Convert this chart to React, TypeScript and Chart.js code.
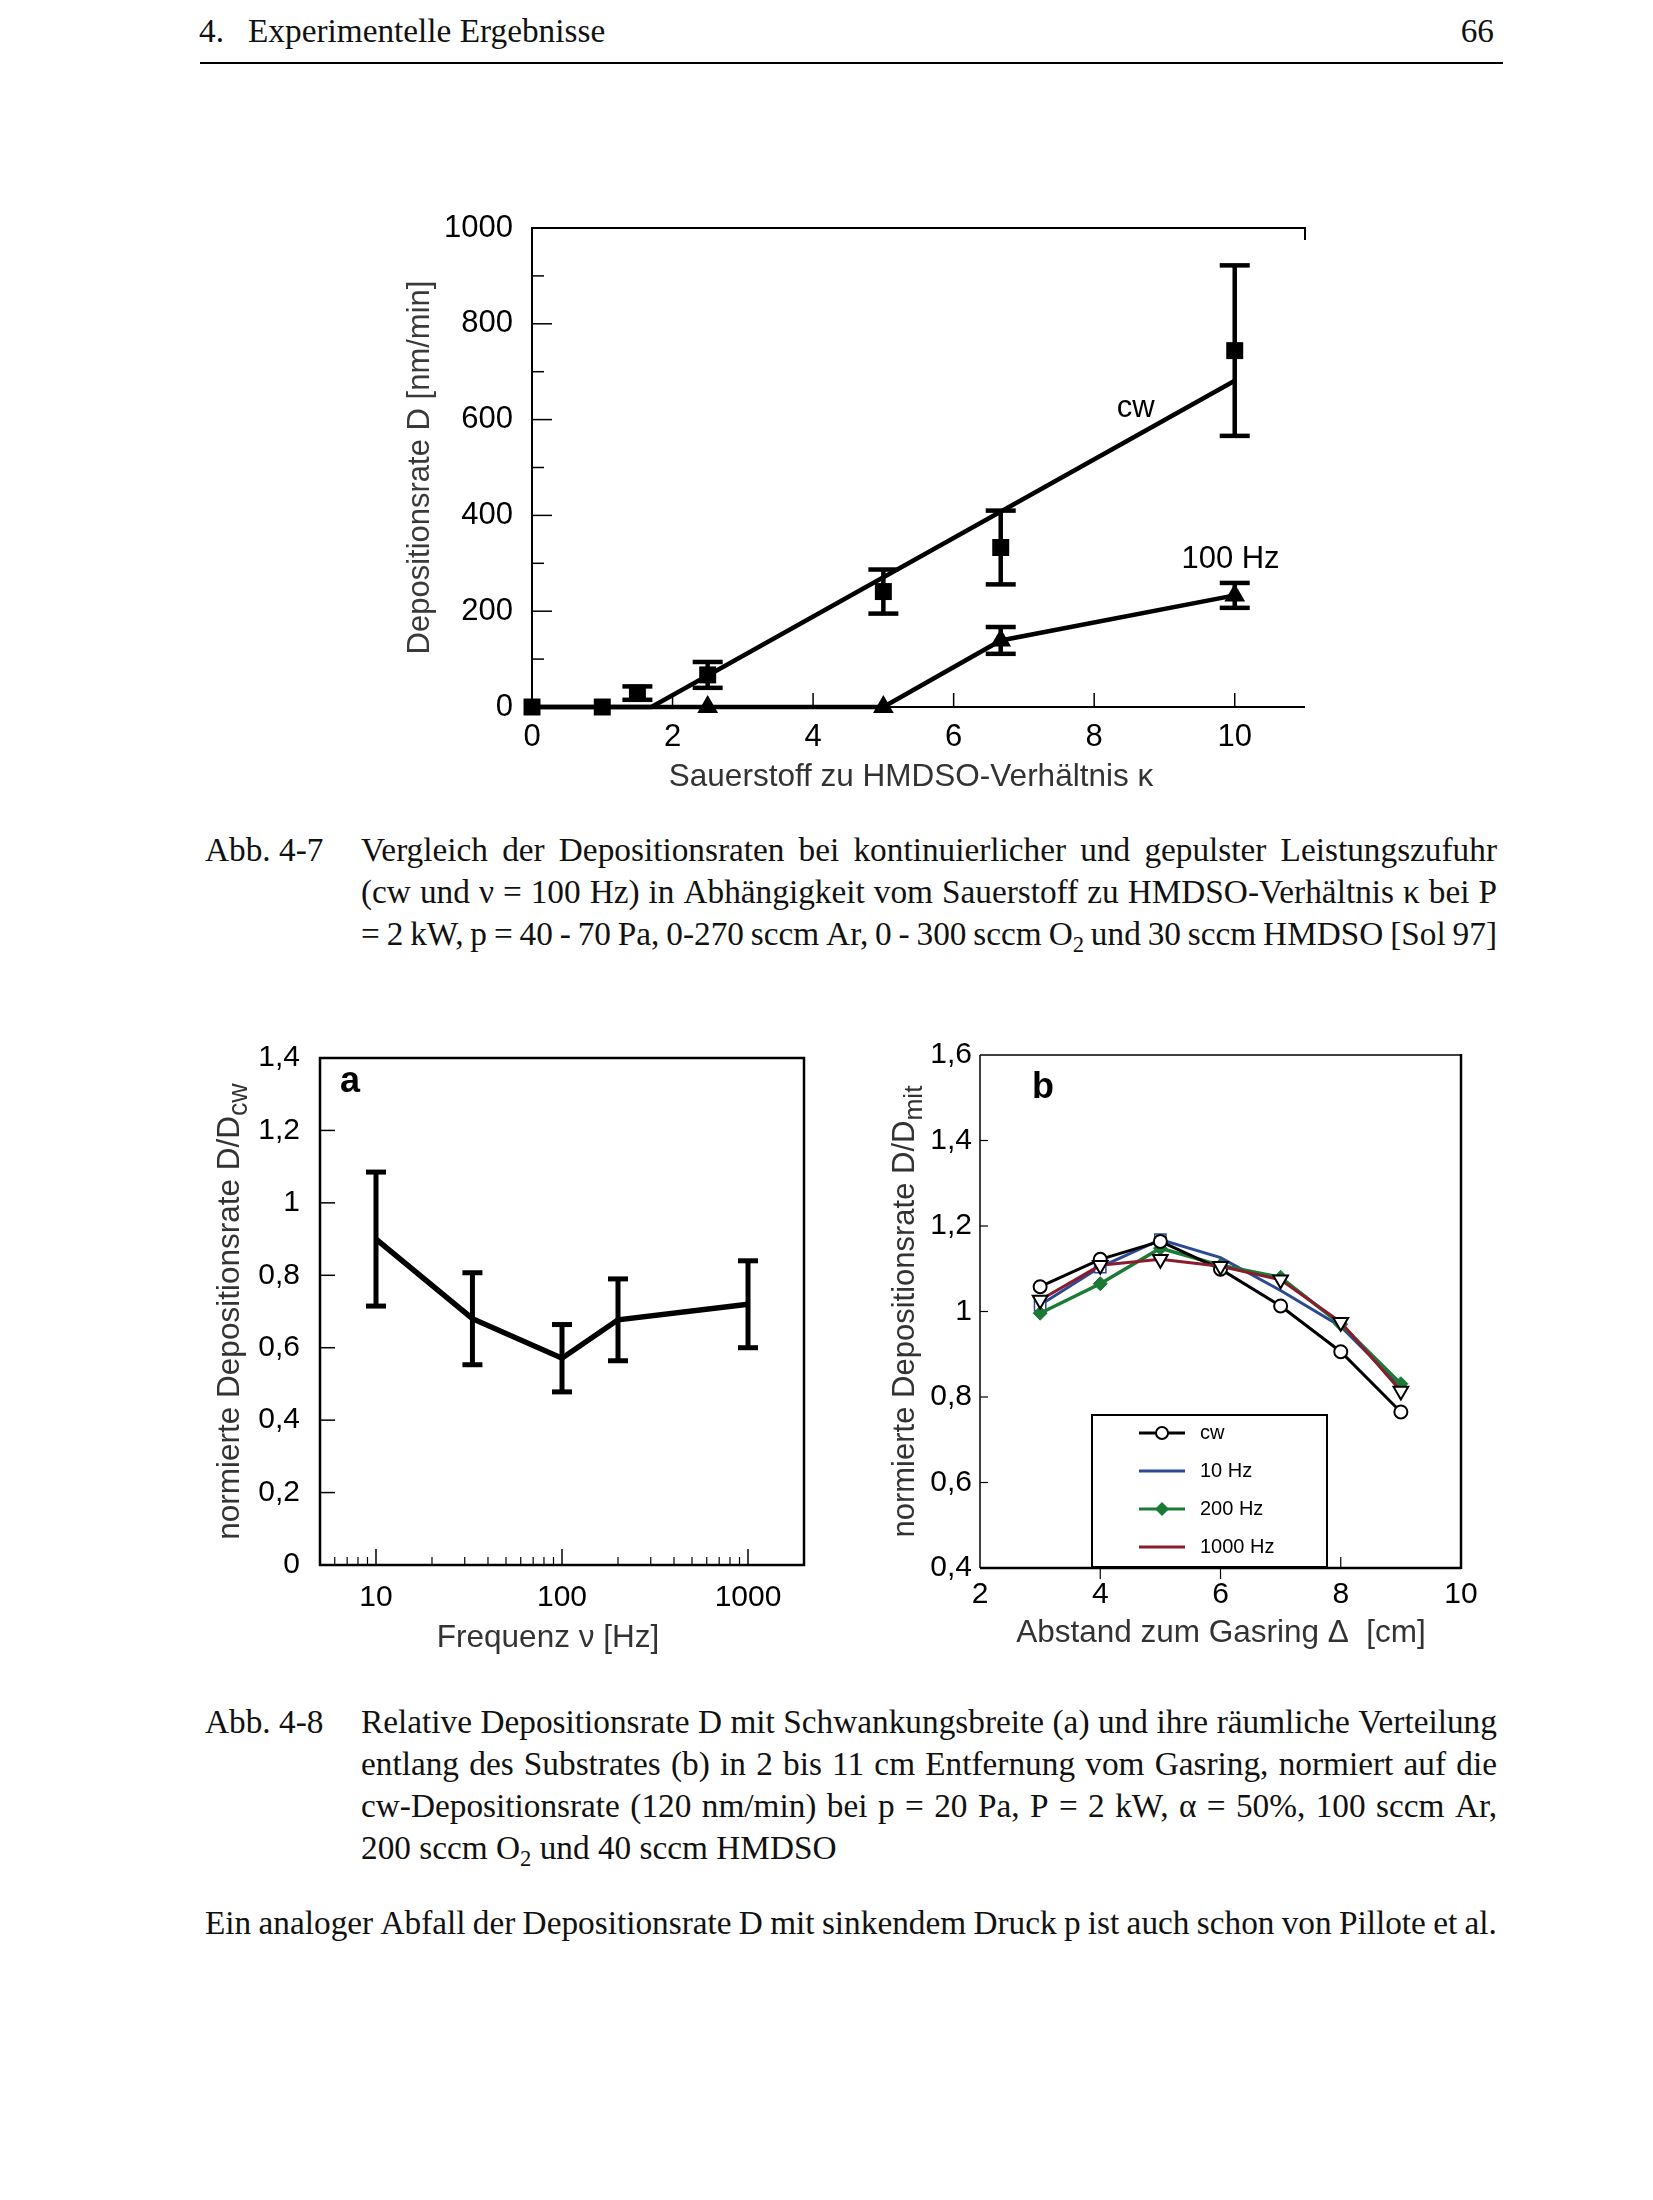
import React, { useEffect, useRef } from "react";
import { Chart, registerables } from "chart.js";

Chart.register(...registerables);

const SANS = "'Liberation Sans', Arial, Helvetica, sans-serif";
const SERIF = "'Liberation Serif', 'Times New Roman', Times, serif";

// ---------------- Abb. 4-7 data ----------------
const KAPPA_CW = [0, 1, 1.5, 2.5, 5, 6.67, 10];
const RATE_CW = [0, 0, 29, 67, 241, 333, 744];
const ERR_CW = [0, 0, 14, 27, 46, 77, 178];
const KAPPA_FIT_CW = [0, 1.7, 10];
const RATE_FIT_CW = [0, 0, 681];
const KAPPA_100 = [0, 2.5, 5, 6.67, 10];
const RATE_100 = [0, 0, 0, 139, 233];
const ERR_100 = [0, 0, 0, 28, 26];
const KAPPA_TICKS = [0, 2, 4, 6, 8, 10];
const KAPPA_TICK_LABELS = ["0", "2", "4", "6", "8", "10"];
const RATE_TICKS = [0, 200, 400, 600, 800, 1000];
const RATE_TICK_LABELS = ["0", "200", "400", "600", "800", "1000"];
const RATE_MINOR_TICKS = [100, 300, 500, 700, 900];

// ---------------- Abb. 4-8 a data ----------------
const FREQ = [10, 33, 100, 200, 1000];
const NORM_RATE = [0.9, 0.68, 0.571, 0.677, 0.72];
const NORM_ERR = [0.185, 0.127, 0.093, 0.113, 0.12];
const FREQ_TICKS = [10, 100, 1000];
const FREQ_TICK_LABELS = ["10", "100", "1000"];
const FREQ_MINOR_TICKS = [6, 7, 8, 9, 20, 30, 40, 50, 60, 70, 80, 90, 200, 300, 400, 500, 600, 700, 800, 900];
const NORM_TICKS = [0, 0.2, 0.4, 0.6, 0.8, 1, 1.2, 1.4];
const NORM_TICK_LABELS = ["0", "0,2", "0,4", "0,6", "0,8", "1", "1,2", "1,4"];

// ---------------- Abb. 4-8 b data ----------------
const DIST = [3, 4, 5, 6, 7, 8, 9];
const B_CW = [1.058, 1.122, 1.164, 1.099, 1.013, 0.906, 0.765];
const B_10HZ = [1.015, 1.104, 1.168, 1.126, 1.049, 0.965, 0.824];
const B_200HZ = [0.996, 1.065, 1.148, 1.108, 1.08, 0.97, 0.831];
const B_1000HZ = [1.027, 1.108, 1.122, 1.106, 1.074, 0.975, 0.814];
const DIST_TICKS = [2, 4, 6, 8, 10];
const DIST_TICK_LABELS = ["2", "4", "6", "8", "10"];
const B_Y_TICKS = [0.4, 0.6, 0.8, 1, 1.2, 1.4, 1.6];
const B_Y_TICK_LABELS = ["0,4", "0,6", "0,8", "1", "1,2", "1,4", "1,6"];
const B_LEGEND = ["cw", "10 Hz", "200 Hz", "1000 Hz"];

const C_BLUE = "#2c4a94";
const C_GREEN = "#1b7a34";
const C_RED = "#8a1c2e";

const pts = (xs: number[], ys: number[]) => xs.map((x, i) => ({ x, y: ys[i] }));
const fixW = (w: number) => (s: any) => { s.width = w; };
const fixH = (h: number) => (s: any) => { s.height = h; };
const setTicks = (vals: number[]) => (s: any) => { s.ticks = vals.map((v) => ({ value: v })); };

function seg(ctx: CanvasRenderingContext2D, x1: number, y1: number, x2: number, y2: number, w: number, color = "#000") {
  ctx.save();
  ctx.strokeStyle = color;
  ctx.lineWidth = w;
  ctx.lineCap = "butt";
  ctx.beginPath();
  ctx.moveTo(x1, y1);
  ctx.lineTo(x2, y2);
  ctx.stroke();
  ctx.restore();
}

function errBars(ctx: CanvasRenderingContext2D, xs: any, ys: any, X: number[], Y: number[], E: number[], cap: number, lw: number) {
  for (let i = 0; i < X.length; i++) {
    if (!E[i]) continue;
    const px = xs.getPixelForValue(X[i]);
    const p1 = ys.getPixelForValue(Y[i] + E[i]);
    const p2 = ys.getPixelForValue(Y[i] - E[i]);
    seg(ctx, px, p1, px, p2, lw);
    seg(ctx, px - cap, p1, px + cap, p1, lw);
    seg(ctx, px - cap, p2, px + cap, p2, lw);
  }
}

function text(ctx: CanvasRenderingContext2D, s: string, x: number, y: number, size: number, color = "#000", align: CanvasTextAlign = "center", weight = "normal") {
  ctx.save();
  ctx.font = `${weight} ${size}px ${SANS}`;
  ctx.fillStyle = color;
  ctx.textAlign = align;
  ctx.textBaseline = "middle";
  ctx.fillText(s, x, y);
  ctx.restore();
}

function vTitle(ctx: CanvasRenderingContext2D, main: string, sub: string, cx: number, cy: number, size: number, color: string) {
  ctx.save();
  ctx.translate(cx, cy);
  ctx.rotate(-Math.PI / 2);
  ctx.fillStyle = color;
  ctx.textBaseline = "middle";
  ctx.textAlign = "left";
  const subSize = size * 0.85;
  ctx.font = `${size}px ${SANS}`;
  const w1 = ctx.measureText(main).width;
  ctx.font = `${subSize}px ${SANS}`;
  const w2 = sub ? ctx.measureText(sub).width : 0;
  const x0 = -(w1 + w2) / 2;
  ctx.font = `${size}px ${SANS}`;
  ctx.fillText(main, x0, 0);
  if (sub) {
    ctx.font = `${subSize}px ${SANS}`;
    ctx.fillText(sub, x0 + w1, size * 0.3);
  }
  ctx.restore();
}

const tickFont = (size: number) => ({ family: SANS, size });

// ---------------- Chart configs ----------------
function topConfig(): any {
  const plugin = {
    id: "topDeco",
    beforeDatasetsDraw(chart: any) {
      const { ctx, chartArea: a, scales } = chart;
      const x = scales.x, y = scales.y;
      ctx.save();
      ctx.strokeStyle = "#000";
      ctx.lineWidth = 2;
      ctx.beginPath();
      ctx.moveTo(a.left, a.bottom);
      ctx.lineTo(a.left, a.top);
      ctx.lineTo(a.right, a.top);
      ctx.lineTo(a.right, a.top + 12);
      ctx.stroke();
      ctx.beginPath();
      ctx.moveTo(a.left, a.bottom);
      ctx.lineTo(a.right, a.bottom);
      ctx.stroke();
      ctx.restore();
      RATE_TICKS.forEach((v) => {
        if (v === 0 || v === 1000) return;
        const p = y.getPixelForValue(v);
        seg(ctx, a.left, p, a.left + 20, p, 1.5);
      });
      RATE_MINOR_TICKS.forEach((v) => {
        const p = y.getPixelForValue(v);
        seg(ctx, a.left, p, a.left + 12, p, 1.5);
      });
      KAPPA_TICKS.forEach((v) => {
        if (v === 0) return;
        const p = x.getPixelForValue(v);
        seg(ctx, p, a.bottom, p, a.bottom - 14, 1.5);
      });
      errBars(ctx, x, y, KAPPA_CW, RATE_CW, ERR_CW, 15, 4.5);
      errBars(ctx, x, y, KAPPA_100, RATE_100, ERR_100, 15, 4.5);
    },
    afterDraw(chart: any) {
      const { ctx, chartArea: a, scales } = chart;
      const x = scales.x, y = scales.y;
      text(ctx, "cw", x.getPixelForValue(8.59), y.getPixelForValue(624), 31);
      text(ctx, "100 Hz", x.getPixelForValue(9.94), y.getPixelForValue(307), 31);
      vTitle(ctx, "Depositionsrate D [nm/min]", "", 40, (a.top + a.bottom) / 2, 31, "#3a3a3a");
      text(ctx, "Sauerstoff zu HMDSO-Verhältnis κ", 531, 587, 31.5, "#333");
    },
  };
  return {
    type: "scatter",
    data: {
      datasets: [
        {
          label: "cw",
          data: pts(KAPPA_CW, RATE_CW),
          showLine: false,
          pointStyle: "rect",
          pointRadius: 12,
          pointBackgroundColor: "#000",
          pointBorderWidth: 0,
          clip: false,
        },
        {
          label: "100 Hz",
          data: pts(KAPPA_100, RATE_100),
          showLine: true,
          borderColor: "#000",
          borderWidth: 4.5,
          pointStyle: "triangle",
          pointRadius: [0, 12, 12, 12, 12],
          pointBackgroundColor: "#000",
          pointBorderWidth: 0,
          clip: false,
        },
        {
          label: "cw fit",
          data: pts(KAPPA_FIT_CW, RATE_FIT_CW),
          showLine: true,
          borderColor: "#000",
          borderWidth: 4.5,
          pointRadius: 0,
          clip: false,
        },
      ],
    },
    options: {
      responsive: false,
      animation: false,
      events: [],
      devicePixelRatio: 1,
      layout: { padding: { left: 0, top: 38, right: 35, bottom: 0 } },
      plugins: { legend: { display: false }, tooltip: { enabled: false } },
      scales: {
        x: {
          type: "linear",
          min: 0,
          max: 11,
          afterBuildTicks: setTicks(KAPPA_TICKS),
          afterFit: fixH(103),
          grid: { display: false, drawTicks: false },
          border: { display: false },
          ticks: {
            padding: 12,
            font: tickFont(31),
            color: "#000",
            maxRotation: 0,
            autoSkip: false,
            callback: (_v: any, i: number) => KAPPA_TICK_LABELS[i],
          },
        },
        y: {
          type: "linear",
          min: 0,
          max: 1000,
          afterBuildTicks: setTicks(RATE_TICKS),
          afterFit: fixW(152),
          grid: { display: false, drawTicks: false },
          border: { display: false },
          ticks: {
            padding: 19,
            font: tickFont(31),
            color: "#000",
            autoSkip: false,
            callback: (_v: any, i: number) => RATE_TICK_LABELS[i],
          },
        },
      },
    },
    plugins: [plugin],
  };
}

function aConfig(): any {
  const plugin = {
    id: "aDeco",
    beforeDatasetsDraw(chart: any) {
      const { ctx, chartArea: a, scales } = chart;
      const x = scales.x, y = scales.y;
      ctx.save();
      ctx.strokeStyle = "#000";
      ctx.lineWidth = 2.5;
      ctx.strokeRect(a.left, a.top, a.right - a.left, a.bottom - a.top);
      ctx.restore();
      NORM_TICKS.forEach((v) => {
        if (v === 0 || v === 1.4) return;
        const p = y.getPixelForValue(v);
        seg(ctx, a.left, p, a.left + 15, p, 1.5);
      });
      FREQ_TICKS.forEach((v) => {
        const p = x.getPixelForValue(v);
        seg(ctx, p, a.bottom, p, a.bottom - 16, 1.5);
      });
      FREQ_MINOR_TICKS.forEach((v) => {
        const p = x.getPixelForValue(v);
        seg(ctx, p, a.bottom, p, a.bottom - 8, 1.2);
      });
      errBars(ctx, x, y, FREQ, NORM_RATE, NORM_ERR, 10, 5);
    },
    afterDraw(chart: any) {
      const { ctx, chartArea: a } = chart;
      text(ctx, "a", 170, 62, 36, "#000", "center", "bold");
      vTitle(ctx, "normierte Depositionsrate D/D", "cw", 50, (a.top + a.bottom) / 2, 31.5, "#333");
      text(ctx, "Frequenz ν [Hz]", 368, 618, 31.5, "#333");
    },
  };
  return {
    type: "scatter",
    data: {
      datasets: [
        {
          label: "D/Dcw",
          data: pts(FREQ, NORM_RATE),
          showLine: true,
          borderColor: "#000",
          borderWidth: 5.5,
          pointRadius: 0,
          clip: false,
        },
      ],
    },
    options: {
      responsive: false,
      animation: false,
      events: [],
      devicePixelRatio: 1,
      layout: { padding: { left: 0, top: 33, right: 36, bottom: 0 } },
      plugins: { legend: { display: false }, tooltip: { enabled: false } },
      scales: {
        x: {
          type: "logarithmic",
          min: 5,
          max: 2000,
          afterBuildTicks: setTicks(FREQ_TICKS),
          afterFit: fixH(105),
          grid: { display: false, drawTicks: false },
          border: { display: false },
          ticks: {
            padding: 15,
            font: tickFont(30),
            color: "#000",
            maxRotation: 0,
            autoSkip: false,
            callback: (_v: any, i: number) => FREQ_TICK_LABELS[i],
          },
        },
        y: {
          type: "linear",
          min: 0,
          max: 1.4,
          afterBuildTicks: setTicks(NORM_TICKS),
          afterFit: fixW(140),
          grid: { display: false, drawTicks: false },
          border: { display: false },
          ticks: {
            padding: 20,
            font: tickFont(30),
            color: "#000",
            autoSkip: false,
            callback: (_v: any, i: number) => NORM_TICK_LABELS[i],
          },
        },
      },
    },
    plugins: [plugin],
  };
}

function bConfig(): any {
  const plugin = {
    id: "bDeco",
    beforeDatasetsDraw(chart: any) {
      const { ctx, chartArea: a, scales } = chart;
      const x = scales.x, y = scales.y;
      seg(ctx, a.left, a.bottom, a.left, a.top, 1.5);
      seg(ctx, a.left, a.top, a.right, a.top, 1.5);
      seg(ctx, a.right, a.top - 1, a.right, a.bottom + 1, 2.5);
      seg(ctx, a.left, a.bottom, a.right, a.bottom, 2.5);
      B_Y_TICKS.forEach((v) => {
        if (v === 0.4 || v === 1.6) return;
        const p = y.getPixelForValue(v);
        seg(ctx, a.left, p, a.left + 8, p, 1.2);
      });
      DIST_TICKS.forEach((v) => {
        if (v === 2 || v === 10) return;
        const p = x.getPixelForValue(v);
        if (v < 8) seg(ctx, p, a.bottom, p, a.bottom + 11, 1.2);
        else seg(ctx, p, a.bottom, p, a.bottom - 11, 1.2);
      });
    },
    afterDraw(chart: any) {
      const { ctx, chartArea: a } = chart;
      // legend box
      const lx = 252, ly = 395, lw = 235, lh = 152;
      ctx.save();
      ctx.fillStyle = "#fff";
      ctx.fillRect(lx, ly, lw, lh);
      ctx.strokeStyle = "#000";
      ctx.lineWidth = 2;
      ctx.strokeRect(lx, ly, lw, lh);
      ctx.restore();
      const rows = [413, 451, 489, 527];
      const cols = ["#000", C_BLUE, C_GREEN, C_RED];
      rows.forEach((ry, i) => {
        seg(ctx, 299, ry, 345, ry, 3, cols[i]);
        text(ctx, B_LEGEND[i], 360, ry, 20, "#000", "left");
      });
      ctx.save();
      ctx.lineWidth = 2;
      ctx.strokeStyle = "#000";
      ctx.fillStyle = "#fff";
      ctx.beginPath();
      ctx.arc(322, rows[0], 6, 0, Math.PI * 2);
      ctx.fill();
      ctx.stroke();
      ctx.fillStyle = C_GREEN;
      ctx.beginPath();
      ctx.moveTo(322, rows[2] - 7);
      ctx.lineTo(329, rows[2]);
      ctx.lineTo(322, rows[2] + 7);
      ctx.lineTo(315, rows[2]);
      ctx.closePath();
      ctx.fill();
      ctx.restore();
      text(ctx, "b", 203, 68, 36, "#000", "center", "bold");
      vTitle(ctx, "normierte Depositionsrate D/D", "mit", 65, (a.top + a.bottom) / 2, 31, "#333");
      text(ctx, "Abstand zum Gasring Δ  [cm]", 381, 613, 31.5, "#333");
    },
  };
  return {
    type: "scatter",
    data: {
      datasets: [
        {
          label: "1000 Hz",
          data: pts(DIST, B_1000HZ),
          showLine: true,
          borderColor: C_RED,
          borderWidth: 3,
          pointStyle: "triangle",
          pointRotation: 180,
          pointRadius: 8.5,
          pointBackgroundColor: "#fff",
          pointBorderColor: "#000",
          pointBorderWidth: 2,
          clip: false,
        },
        {
          label: "cw",
          data: pts(DIST, B_CW),
          showLine: true,
          borderColor: "#000",
          borderWidth: 3,
          pointStyle: "circle",
          pointRadius: 6.5,
          pointBackgroundColor: "#fff",
          pointBorderColor: "#000",
          pointBorderWidth: 2,
          clip: false,
        },
        {
          label: "200 Hz",
          data: pts(DIST, B_200HZ),
          showLine: true,
          borderColor: C_GREEN,
          borderWidth: 3.5,
          pointStyle: "rectRot",
          pointRadius: 7,
          pointBackgroundColor: C_GREEN,
          pointBorderColor: C_GREEN,
          pointBorderWidth: 1,
          clip: false,
        },
        {
          label: "10 Hz",
          data: pts(DIST, B_10HZ),
          showLine: true,
          borderColor: C_BLUE,
          borderWidth: 3,
          pointStyle: "rect",
          pointRadius: [8, 8, 8, 0, 0, 0, 0],
          pointBackgroundColor: "#fff",
          pointBorderColor: C_BLUE,
          pointBorderWidth: 1.5,
          clip: false,
        },
      ],
    },
    options: {
      responsive: false,
      animation: false,
      events: [],
      devicePixelRatio: 1,
      layout: { padding: { left: 0, top: 35, right: 39, bottom: 0 } },
      plugins: { legend: { display: false }, tooltip: { enabled: false } },
      scales: {
        x: {
          type: "linear",
          min: 2,
          max: 10,
          afterBuildTicks: setTicks(DIST_TICKS),
          afterFit: fixH(102),
          grid: { display: false, drawTicks: false },
          border: { display: false },
          ticks: {
            padding: 9,
            font: tickFont(30),
            color: "#000",
            maxRotation: 0,
            autoSkip: false,
            callback: (_v: any, i: number) => DIST_TICK_LABELS[i],
          },
        },
        y: {
          type: "linear",
          min: 0.4,
          max: 1.6,
          afterBuildTicks: setTicks(B_Y_TICKS),
          afterFit: fixW(140),
          grid: { display: false, drawTicks: false },
          border: { display: false },
          ticks: {
            padding: 8,
            font: tickFont(30),
            color: "#000",
            autoSkip: false,
            callback: (_v: any, i: number) => B_Y_TICK_LABELS[i],
          },
        },
      },
    },
    plugins: [plugin],
  };
}

function ChartBox({ left, top, width, height, make }: { left: number; top: number; width: number; height: number; make: () => any }) {
  const ref = useRef<HTMLCanvasElement>(null);
  useEffect(() => {
    const chart = new Chart(ref.current as HTMLCanvasElement, make());
    return () => chart.destroy();
  }, []);
  return (
    <canvas
      ref={ref}
      width={width}
      height={height}
      style={{ position: "absolute", left, top, width, height, display: "block" }}
    />
  );
}

// ---------------- Page text ----------------
const FS = 33.3;
const LH = 42;

function Word({ w }: { w: string }) {
  const parts = w.split("_");
  if (parts.length === 2) {
    return (
      <span>
        {parts[0]}
        <span style={{ fontSize: "0.68em", position: "relative", top: "0.32em" }}>{parts[1]}</span>
      </span>
    );
  }
  return <span>{w}</span>;
}

function JLine({ t, left, top, width }: { t: string; left: number; top: number; width: number }) {
  return (
    <div
      style={{
        position: "absolute",
        left,
        top,
        width,
        height: LH,
        lineHeight: `${LH}px`,
        display: "flex",
        justifyContent: "space-between",
        whiteSpace: "nowrap",
      }}
    >
      {t.split(" ").map((w, i) => (
        <Word key={i} w={w} />
      ))}
    </div>
  );
}

function Plain({ children, left, top, style }: { children: any; left: number; top: number; style?: any }) {
  return (
    <div style={{ position: "absolute", left, top, lineHeight: `${LH}px`, whiteSpace: "nowrap", ...(style || {}) }}>
      {children}
    </div>
  );
}

const CAP7 = [
  "Vergleich der Depositionsraten bei kontinuierlicher und gepulster Leistungszufuhr",
  "(cw und ν = 100 Hz) in Abhängigkeit vom Sauerstoff zu HMDSO-Verhältnis κ bei P",
  "= 2 kW, p = 40 - 70 Pa, 0-270 sccm Ar, 0 - 300 sccm O_2 und 30 sccm HMDSO [Sol 97]",
];
const CAP8 = [
  "Relative Depositionsrate D mit Schwankungsbreite (a) und ihre räumliche Verteilung",
  "entlang des Substrates (b) in 2 bis 11 cm Entfernung vom Gasring, normiert auf die",
  "cw-Depositionsrate (120 nm/min) bei p = 20 Pa, P = 2 kW, α = 50%, 100 sccm Ar,",
];
const BODY = "Ein analoger Abfall der Depositionsrate D mit sinkendem Druck p ist auch schon von Pillote et al.";

export default function App() {
  const capLeft = 361;
  const capW = 1136;
  return (
    <div
      style={{
        position: "absolute",
        left: 0,
        top: 0,
        width: 1653,
        height: 2200,
        background: "#fff",
        fontFamily: SERIF,
        fontSize: FS,
        color: "#111",
        overflow: "hidden",
      }}
    >
      {/* header */}
      <Plain left={199} top={10}>4.</Plain>
      <Plain left={248} top={10}>Experimentelle Ergebnisse</Plain>
      <Plain left={1394} top={10} style={{ width: 100, textAlign: "right" }}>66</Plain>
      <div style={{ position: "absolute", left: 200, top: 62, width: 1303, height: 2, background: "#000" }} />

      <ChartBox left={380} top={190} width={960} height={620} make={topConfig} />

      <Plain left={205} top={829}>Abb. 4-7</Plain>
      {CAP7.map((t, i) => (
        <JLine key={i} t={t} left={capLeft} top={829 + i * LH} width={capW} />
      ))}

      <ChartBox left={180} top={1020} width={660} height={650} make={aConfig} />
      <ChartBox left={840} top={1020} width={660} height={650} make={bConfig} />

      <Plain left={205} top={1701}>Abb. 4-8</Plain>
      {CAP8.map((t, i) => (
        <JLine key={i} t={t} left={capLeft} top={1701 + i * LH} width={capW} />
      ))}
      <Plain left={capLeft} top={1701 + 3 * LH}>
        200 sccm O<span style={{ fontSize: "0.68em", position: "relative", top: "0.32em" }}>2</span> und 40 sccm HMDSO
      </Plain>

      <JLine t={BODY} left={205} top={1902} width={1292} />
    </div>
  );
}
